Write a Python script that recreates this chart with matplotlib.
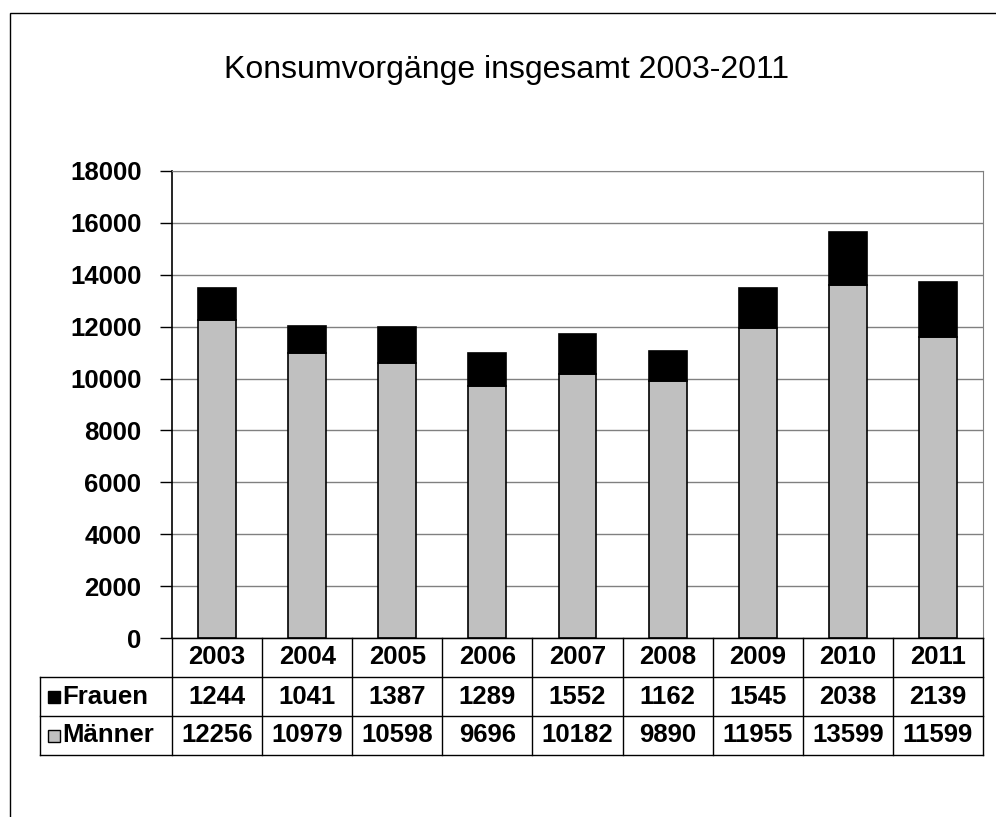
import matplotlib
matplotlib.use('Agg')
import matplotlib.pyplot as plt
from matplotlib.lines import Line2D
from matplotlib.patches import Rectangle

# Data
YEARS = ['2003', '2004', '2005', '2006', '2007', '2008', '2009', '2010', '2011']
FRAUEN = [1244, 1041, 1387, 1289, 1552, 1162, 1545, 2038, 2139]
MAENNER = [12256, 10979, 10598, 9696, 10182, 9890, 11955, 13599, 11599]
Y_TICKS = [0, 2000, 4000, 6000, 8000, 10000, 12000, 14000, 16000, 18000]
TITLE = 'Konsumvorgänge insgesamt 2003-2011'

W, H = 996, 817
GREY = '#c0c0c0'
FONT = 'Liberation Sans'

plt.rcParams['font.family'] = [FONT, 'DejaVu Sans']

fig = plt.figure(figsize=(W / 100, H / 100), dpi=100)


def fx(px):
    return px / W


def fy(py):
    return 1 - py / H


def hline(x0, x1, y, color='black', lw=1.0):
    fig.add_artist(Line2D([fx(x0), fx(x1)], [fy(y), fy(y)], color=color, lw=lw,
                          transform=fig.transFigure))


def vline(x, y0, y1, color='black', lw=1.0):
    fig.add_artist(Line2D([fx(x), fx(x)], [fy(y0), fy(y1)], color=color, lw=lw,
                          transform=fig.transFigure))


# outer chart frame
fig.add_artist(Rectangle((fx(10), fy(830)), fx(1000), fy(13) - fy(830), fill=False,
                         edgecolor='black', lw=1.0, transform=fig.transFigure))

# plot area in pixel coords
PL, PR, PT, PB = 172, 983, 171, 638
ax = fig.add_axes([fx(PL), fy(PB), fx(PR - PL), fy(PT) - fy(PB)])

x = list(range(len(YEARS)))
ax.bar(x, MAENNER, width=0.42, color=GREY, edgecolor='black', linewidth=1.2, zorder=3)
ax.bar(x, FRAUEN, width=0.42, bottom=MAENNER, color='black', edgecolor='black',
       linewidth=1.2, zorder=3)

ax.set_xlim(-0.5, len(YEARS) - 0.5)
ax.set_ylim(0, 18000)
ax.set_yticks(Y_TICKS)
ax.set_yticklabels([str(t) for t in Y_TICKS], fontsize=18.5, fontweight='bold')
ax.set_xticks([])
ax.yaxis.grid(True, color='#808080', lw=1.0, zorder=0)
ax.tick_params(axis='y', direction='out', length=9, width=1.0, pad=13)
for side in ['top', 'right']:
    ax.spines[side].set_color('#808080')
ax.spines['left'].set_color('black')
ax.spines['left'].set_linewidth(1.2)
ax.spines['bottom'].set_color('black')

fig.text(0.5 * (fx(208) + fx(805)), fy(70), TITLE, ha='center', va='center',
         fontsize=23)

# data table below the plot
ROWS = [638, 677, 716, 755]
TL = 40
col_w = (PR - PL) / len(YEARS)

hline(PL, PR, ROWS[0])
for r in ROWS[1:]:
    hline(TL, PR, r)
vline(TL, ROWS[1], ROWS[3])
for i in range(len(YEARS) + 1):
    vline(PL + i * col_w, ROWS[0], ROWS[3])

cell_fs = 18.5
for i, year in enumerate(YEARS):
    cx = fx(PL + (i + 0.5) * col_w)
    fig.text(cx, fy((ROWS[0] + ROWS[1]) / 2), year, ha='center', va='center',
             fontsize=cell_fs, fontweight='bold')
    fig.text(cx, fy((ROWS[1] + ROWS[2]) / 2), str(FRAUEN[i]), ha='center',
             va='center', fontsize=cell_fs, fontweight='bold')
    fig.text(cx, fy((ROWS[2] + ROWS[3]) / 2), str(MAENNER[i]), ha='center',
             va='center', fontsize=cell_fs, fontweight='bold')

# legend keys inside the table
for (r0, r1), label, color in [((ROWS[1], ROWS[2]), 'Frauen', 'black'),
                               ((ROWS[2], ROWS[3]), 'Männer', GREY)]:
    cyp = (r0 + r1) / 2
    fig.add_artist(Rectangle((fx(48), fy(cyp + 6.5)), fx(12), fy(cyp - 5.5) - fy(cyp + 6.5),
                             facecolor=color, edgecolor='black', lw=1.0,
                             transform=fig.transFigure))
    fig.text(fx(62), fy(cyp), label, ha='left', va='center', fontsize=cell_fs,
             fontweight='bold')

fig.savefig('out.png', dpi=100)
